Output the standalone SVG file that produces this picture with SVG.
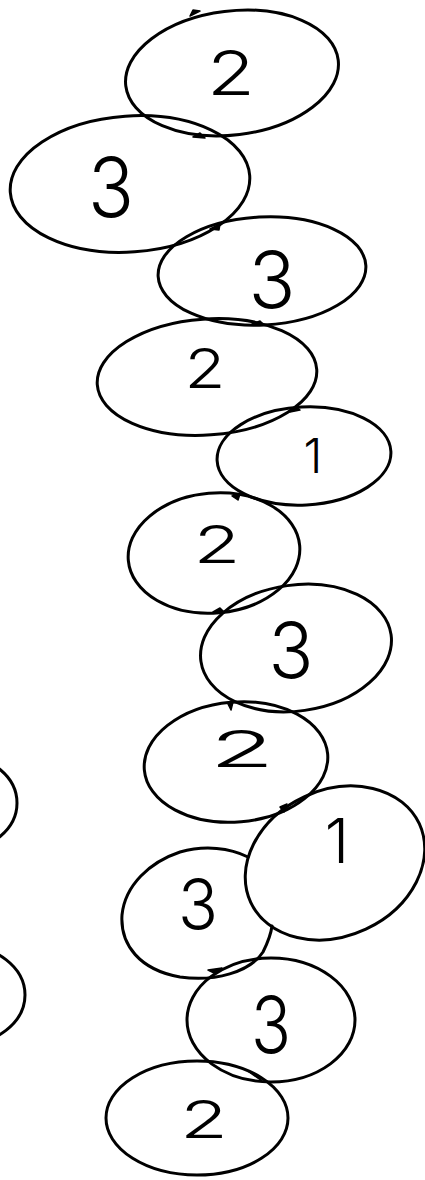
<svg xmlns="http://www.w3.org/2000/svg" width="425" height="1180" viewBox="0 0 425 1180">
<style>
.o{fill:none;stroke:#000;stroke-width:3;stroke-linecap:round}
.t{font-family:Inter,"Liberation Sans",sans-serif;font-weight:300;text-anchor:middle;fill:#000}
.m{fill:#000;stroke:#000;stroke-width:1.5;stroke-linejoin:round}
</style>
<rect width="425" height="1180" fill="#fff"/>
<g id="edge-partials">
<ellipse class="o" cx="-40" cy="803" rx="57" ry="47"/>
<ellipse class="o" cx="-40" cy="995" rx="65" ry="50"/>
</g>
<g id="n1"><ellipse class="o" cx="232" cy="73" rx="107" ry="62" transform="rotate(-7 232 73)"/><text class="t" x="231" y="95" font-size="62" textLength="48" lengthAdjust="spacingAndGlyphs">2</text></g>
<g id="n2"><ellipse class="o" cx="130" cy="184" rx="120" ry="68" transform="rotate(-4 130 184)"/><text class="t" x="111" y="217" font-size="82" textLength="46" lengthAdjust="spacingAndGlyphs">3</text></g>
<g id="n3"><ellipse class="o" cx="262" cy="271" rx="104" ry="54" transform="rotate(-3 262 271)"/><text class="t" x="272" y="308" font-size="78" textLength="47" lengthAdjust="spacingAndGlyphs">3</text></g>
<g id="n4"><ellipse class="o" cx="207" cy="377" rx="110" ry="58" transform="rotate(-4 207 377)"/><text class="t" x="205" y="388" font-size="55" textLength="41" lengthAdjust="spacingAndGlyphs">2</text></g>
<g id="n5"><ellipse class="o" cx="304" cy="456" rx="87" ry="49" transform="rotate(-3 304 456)"/><text class="t" x="313" y="473" font-size="48">1</text></g>
<g id="n6"><ellipse class="o" cx="214" cy="553" rx="86" ry="60" transform="rotate(-5 214 553)"/><text class="t" x="217" y="563" font-size="52" textLength="47" lengthAdjust="spacingAndGlyphs">2</text></g>
<g id="n7"><ellipse class="o" cx="296" cy="648" rx="96" ry="63" transform="rotate(-8 296 648)"/><text class="t" x="291" y="678" font-size="77" textLength="45" lengthAdjust="spacingAndGlyphs">3</text></g>
<g id="n8"><ellipse class="o" cx="236" cy="762" rx="92" ry="60" transform="rotate(-5 236 762)"/><text class="t" x="242" y="767" font-size="51" textLength="65" lengthAdjust="spacingAndGlyphs">2</text></g>
<g id="n9"><ellipse class="o" cx="335" cy="863" rx="93" ry="73" transform="rotate(-25 335 863)"/><text class="t" x="337" y="863" font-size="62">1</text></g>
<g id="n10"><path class="o" d="M248 857 C230 848 205 845 180 852 C150 862 125 885 122 915 C120 945 140 970 180 977 C215 982 250 972 263 952 C268 942 271 934 272 926"/><text class="t" x="198" y="930" font-size="71" textLength="40" lengthAdjust="spacingAndGlyphs">3</text></g>
<g id="n11"><ellipse class="o" cx="271" cy="1020" rx="84" ry="62"/><text class="t" x="271" y="1053" font-size="79" textLength="40" lengthAdjust="spacingAndGlyphs">3</text></g>
<g id="n12"><ellipse class="o" cx="197" cy="1118" rx="91" ry="57"/><text class="t" x="204" y="1138" font-size="52" textLength="48" lengthAdjust="spacingAndGlyphs">2</text></g>
<g id="connectors">
<path class="m" d="M190 16 L200 11 L193 10 Z"/>
<path class="m" d="M193 137 L200 133 L205 138 Z"/>
<path class="m" d="M210 229 L220 224 L219 230 Z"/>
<path class="m" d="M252 324 L260 321 L264 325 Z"/>
<path class="m" d="M290 412 L296 407 L300 410 Z"/>
<path class="m" d="M232 496 L240 494 L238 500 Z"/>
<path class="m" d="M213 612 L220 608 L224 612 Z"/>
<path class="m" d="M228 704 L233 702 L231 710 Z"/>
<path class="m" d="M280 807 L287 804 L284 812 Z"/>
<path class="m" d="M208 970 L222 968 L214 973 Z"/>
<path class="m" d="M249 1072 L257 1075 L262 1081 Z"/>
</g>
</svg>
